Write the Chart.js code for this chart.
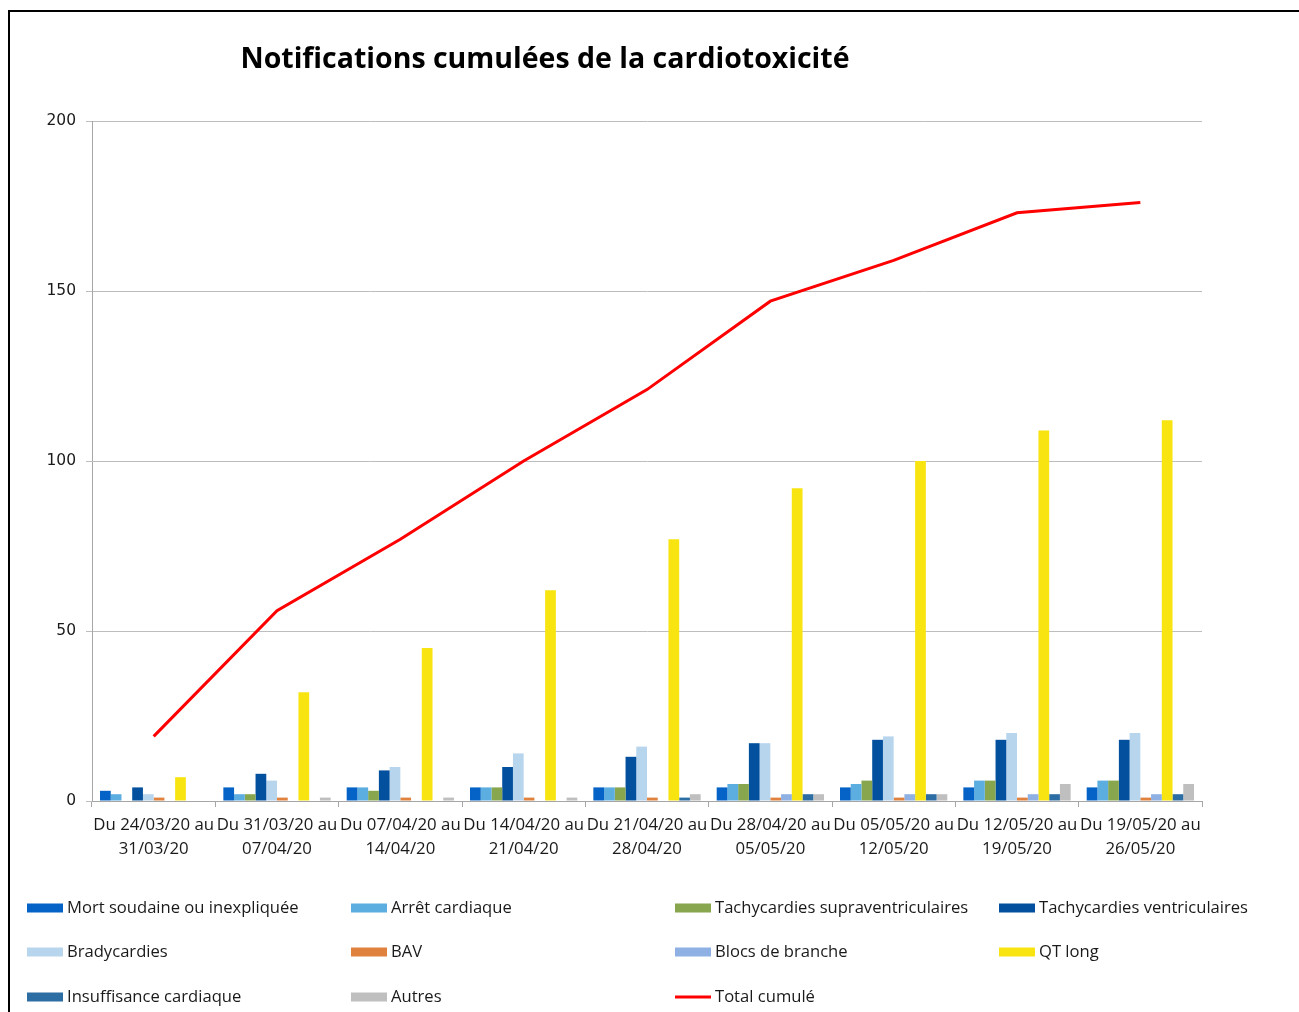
<!DOCTYPE html>
<html>
<head>
<meta charset="utf-8">
<script src="https://cdn.jsdelivr.net/npm/chart.js@4"></script>
<style>
  html, body { margin: 0; padding: 0; background: #fff; }
  #wrap { width: 1299px; height: 1012px; position: relative; }
</style>
</head>
<body>
<div id="wrap"><canvas id="graph"></canvas></div>
<script>
// semaines (libellés sur deux lignes)
const semaines = [
    ['Du 24/03/20 au', '31/03/20'],
    ['Du 31/03/20 au', '07/04/20'],
    ['Du 07/04/20 au', '14/04/20'],
    ['Du 14/04/20 au', '21/04/20'],
    ['Du 21/04/20 au', '28/04/20'],
    ['Du 28/04/20 au', '05/05/20'],
    ['Du 05/05/20 au', '12/05/20'],
    ['Du 12/05/20 au', '19/05/20'],
    ['Du 19/05/20 au', '26/05/20']
];

// séries
const mortSoudaine   = [3, 4, 4, 4, 4, 4, 4, 4, 4];
const arretCardiaque = [2, 2, 4, 4, 4, 5, 5, 6, 6];
const tachySupra     = [0, 2, 3, 4, 4, 5, 6, 6, 6];
const tachyVentri    = [4, 8, 9, 10, 13, 17, 18, 18, 18];
const bradycardies   = [2, 6, 10, 14, 16, 17, 19, 20, 20];
const bav            = [1, 1, 1, 1, 1, 1, 1, 1, 1];
const blocsBranche   = [0, 0, 0, 0, 0, 2, 2, 2, 2];
const qtLong         = [7, 32, 45, 62, 77, 92, 100, 109, 112];
const insuffisance   = [0, 0, 0, 0, 1, 2, 2, 2, 2];
const autres         = [0, 1, 1, 1, 2, 2, 2, 5, 5];
const totalCumule    = [19, 56, 77, 100, 121, 147, 159, 173, 176];

const yTicks = [0, 50, 100, 150, 200];

function barre(label, data, couleur) {
    return {
        type: 'bar', label, data,
        backgroundColor: couleur,
        borderWidth: 0,
        categoryPercentage: 0.87,
        barPercentage: 1.0,
        order: 1
    };
}

// -----------------------------
// Cadre, titre et légende dessinés à la main
// -----------------------------
const decor = {
    id: 'decor',
    afterDraw(chart) {
        const ctx = chart.ctx;
        ctx.save();
        // cadre noir
        ctx.strokeStyle = '#000';
        ctx.lineWidth = 2;
        ctx.strokeRect(9, 11, 1300, 1010);

        // titre
        ctx.fillStyle = '#000';
        ctx.font = 'bold 28.5px "Open Sans"';
        ctx.textAlign = 'center';
        ctx.textBaseline = 'middle';
        ctx.fillText('Notifications cumulées de la cardiotoxicité', 545, 60);

        // légende en 4 colonnes
        const colX = [27, 351, 675, 999];
        const rowY = [908, 952, 997];
        ctx.font = '16.6px "Open Sans"';
        ctx.textAlign = 'left';
        chart.data.datasets.forEach((ds, i) => {
            const x = colX[i % 4];
            const y = rowY[Math.floor(i / 4)];
            if (ds.type === 'line') {
                ctx.fillStyle = ds.borderColor;
                ctx.fillRect(x, y - 1.5, 36, 3);
            } else {
                ctx.fillStyle = ds.backgroundColor;
                ctx.fillRect(x, y - 4.5, 36, 9);
            }
            ctx.fillStyle = '#1a1a1a';
            ctx.fillText(ds.label, x + 40, y);
        });
        ctx.restore();
    }
};

new Chart(document.getElementById('graph'), {
    data: {
        labels: semaines,
        datasets: [
            barre('Mort soudaine ou inexpliquée', mortSoudaine, '#0562C6'),
            barre('Arrêt cardiaque', arretCardiaque, '#5CADE0'),
            barre('Tachycardies supraventriculaires', tachySupra, '#88A64E'),
            barre('Tachycardies ventriculaires', tachyVentri, '#03509E'),
            barre('Bradycardies', bradycardies, '#B8D5EE'),
            barre('BAV', bav, '#E0823D'),
            barre('Blocs de branche', blocsBranche, '#8EB0E3'),
            barre('QT long', qtLong, '#F7E411'),
            barre('Insuffisance cardiaque', insuffisance, '#2C6DA4'),
            barre('Autres', autres, '#BFBFBF'),
            {
                type: 'line', label: 'Total cumulé', data: totalCumule,
                borderColor: '#FF0000', backgroundColor: '#FF0000',
                borderWidth: 3, pointRadius: 0, tension: 0, order: 0
            }
        ]
    },
    options: {
        responsive: true,
        maintainAspectRatio: false,
        animation: false,
        layout: { padding: { top: 121, right: 97, bottom: 141, left: 0 } },
        plugins: {
            legend: { display: false },
            title: { display: false },
            tooltip: { enabled: false }
        },
        scales: {
            x: {
                afterFit: s => { s.height = 70; },
                grid: {
                    offset: true, drawOnChartArea: false,
                    color: '#a6a6a6', tickLength: 6
                },
                border: { color: '#a6a6a6' },
                ticks: {
                    autoSkip: false, maxRotation: 0, minRotation: 0,
                    color: '#1a1a1a', padding: 7,
                    font: { family: 'Open Sans', size: 16.8, lineHeight: 1.38 }
                }
            },
            y: {
                min: 0, max: 200,
                afterFit: s => { s.width = 92; },
                afterBuildTicks: s => { s.ticks = yTicks.map(v => ({ value: v })); },
                grid: { color: '#bdbdbd', tickLength: 6 },
                border: { color: '#a6a6a6' },
                ticks: {
                    color: '#1a1a1a', padding: 10,
                    font: { family: 'DejaVu Sans', size: 15.5 }
                }
            }
        }
    },
    plugins: [decor]
});
</script>
</body>
</html>
